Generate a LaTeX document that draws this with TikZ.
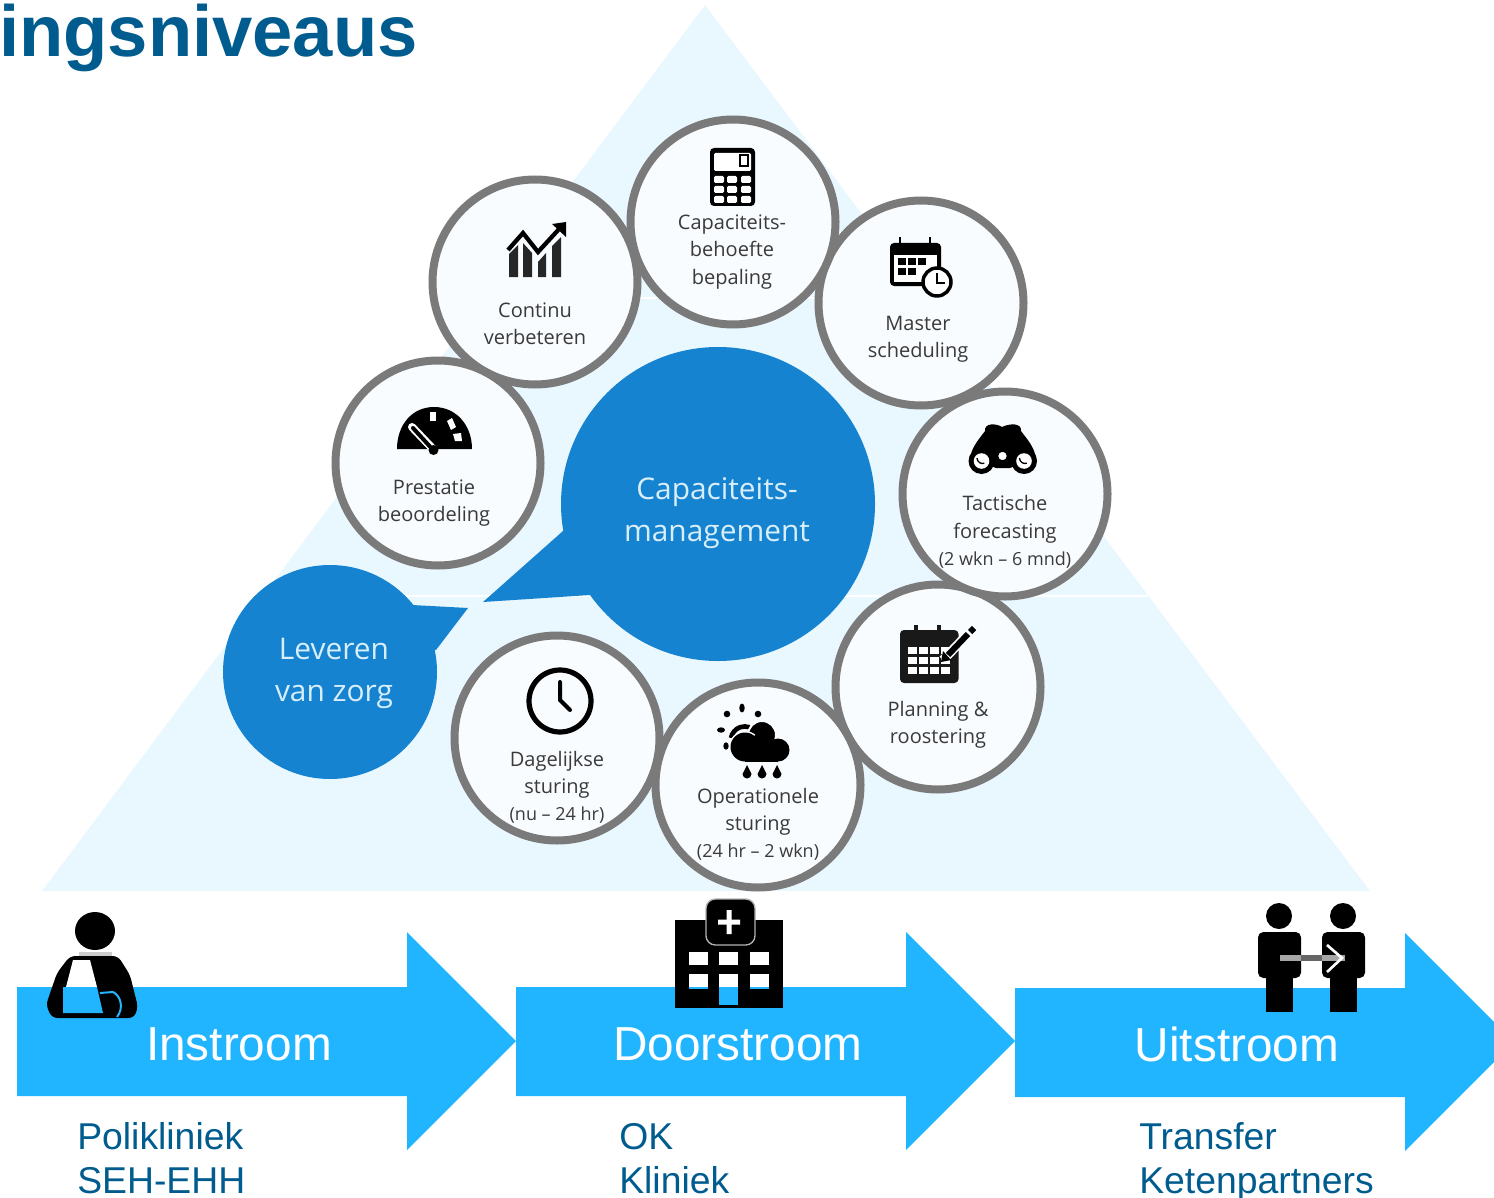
\documentclass[tikz,border=0pt]{standalone}
\usepackage{fontspec}
\setmainfont{Liberation Sans}
\newfontfamily\cfont{Open Sans}
\definecolor{tri}{HTML}{E9F7FF}
\definecolor{ringc}{HTML}{7A7A7A}
\definecolor{disc}{HTML}{F9FCFF}
\definecolor{bubble}{HTML}{1583D0}
\definecolor{arrowc}{HTML}{22B5FF}
\definecolor{navy}{HTML}{005C8F}
\definecolor{lbl}{HTML}{3A3A3A}
\definecolor{bubtxt}{HTML}{D8EEFB}
\tikzset{
 ring/.style={circle,draw=ringc,fill=disc,line width=6pt,minimum size=153.75pt,inner sep=0pt},
 lab/.style={align=center,text=lbl,inner sep=0pt,font=\cfont\fontsize{15}{20.4}\selectfont},
 blab/.style={align=center,text=bubtxt,inner sep=0pt,font=\cfont\fontsize{22.4}{31.5}\selectfont},
 arrowtxt/.style={text=white,inner sep=0pt,anchor=base,font=\fontsize{35.8}{40}\selectfont},
 subtxt/.style={text=navy,inner sep=0pt,anchor=base west,font=\fontsize{28}{33}\selectfont},
 bigarrow/.style={fill=arrowc,draw=none},
 sep/.style={draw=white,line width=1.3pt}
}
\begin{document}
\begin{tikzpicture}[x=0.75pt,y=-0.75pt]
\useasboundingbox (0,0) rectangle (1494,1198);
\clip (0,0) rectangle (1494,1198);
% pyramid
\fill[tri] (705,5) -- (1370,891) -- (42,891) -- cycle;
\draw[sep] (485,298) -- (925,298);
\draw[sep] (262,596) -- (1148,596);
% title
\node[text=navy,inner sep=0pt,anchor=base west,font=\bfseries\fontsize{54.3}{60}\selectfont] (title) at (-1,56.5) {ingsniveaus};
% speech bubbles
\node[circle,fill=bubble,minimum size=235.5pt,inner sep=0pt] (mainb) at (718,504) {};
\fill[bubble] (563,531) -- (483,602) -- (590,595) -- (640,560) -- cycle;
\node[circle,fill=bubble,minimum size=160.5pt,inner sep=0pt] (leftb) at (330,672) {};
\fill[bubble] (412,605) -- (468,608) -- (436,650) -- (380,640) -- cycle;
\node[blab] (mainl) at (717,513) {Capaciteits-\\management};
\node[blab] (leftl) at (334,673) {Leveren\\van zorg};
% rings
\node[ring] (c2) at (535,282) {};
\node[ring] (c3) at (921,303) {};
\node[ring] (c8) at (438,463) {};
\node[ring] (c5) at (938,687) {};
\node[ring] (c4) at (1005,494) {};
\node[ring] (c7) at (557,738) {};
\node[ring] (c6) at (758,785) {};
\node[ring] (c1) at (733,222) {};
% labels
\node[lab] (l1) at (732,252) {Capaciteits-\\behoefte\\bepaling};
\node[lab] (l2) at (535,324) {Continu\\verbeteren};
\node[lab] (l3) at (918,339) {Master\\scheduling};
\node[lab] (l4) at (1005,532) {Tactische\\forecasting\\{\fontsize{13.5}{20.4}\selectfont (2 wkn – 6 mnd)}};
\node[lab] (l5) at (938,725) {Planning \&\\roostering};
\node[lab] (l6) at (758,824.5) {Operationele\\sturing\\{\fontsize{13.5}{20.4}\selectfont (24 hr – 2 wkn)}};
\node[lab] (l7) at (557,787.5) {Dagelijkse\\sturing\\{\fontsize{13.5}{20.4}\selectfont (nu – 24 hr)}};
\node[lab] (l8) at (434,503) {Prestatie\\beoordeling};
% calculator
\fill[black,rounded corners=3pt] (710,148) rectangle (755,206);
\fill[white,rounded corners=1pt] (714,153) rectangle (751,171);
\draw[black,line width=1.3pt] (740,155) rectangle (748,166);
\foreach \yy in {176,186,196} \foreach \xx in {714,727,741}
  \fill[white,rounded corners=1pt] (\xx,\yy) rectangle ++(10,7);
% chart
\draw[black,line width=3.2pt,line join=miter] (508,250) -- (523,233) -- (538,252) -- (560,228);
\fill[black] (552,224) -- (566,222) -- (566,237) -- cycle;
\fill[black!85] (509,254) -- (518,245) -- (518,277) -- (509,277) -- cycle;
\fill[black!85] (523,243) -- (532,253) -- (532,277) -- (523,277) -- cycle;
\fill[black!85] (538,262) -- (546,253) -- (546,277) -- (538,277) -- cycle;
\fill[black!85] (552,246) -- (561,237) -- (561,277) -- (552,277) -- cycle;
% master calendar
\fill[black,rounded corners=3pt] (890,243) rectangle (941,286);
\fill[white] (894,255) rectangle (937,282);
\foreach \xx in {898,908,918} \fill[black] (\xx,258) rectangle ++(8,7);
\foreach \xx in {898,908} \fill[black] (\xx,268) rectangle ++(8,7);
\draw[black,line width=2pt] (900,237) -- (900,250) (930,237) -- (930,250);
\draw[black,fill=white,line width=2.6pt] (937,282) circle (14);
\draw[black,line width=2pt] (937,273) -- (937,283) -- (945,283);
% gauge
\fill[black] (397,449) .. controls (397,425) and (412,407) .. (434,407) .. controls (456,407) and (472,425) .. (472,449) -- cycle;
\draw[white,line width=6pt,line cap=round] (412,427) -- (433,449);
\draw[black,line width=3pt,line cap=round] (413,428) -- (434,451);
\fill[black] (433.5,450) circle (5);
\fill[white] (430,412) rectangle (436,421);
\fill[white] (447,421) -- (452,418) -- (456,427) -- (451,430) -- cycle;
\fill[white] (453,434) -- (461,433) -- (462,441) -- (455,441) -- cycle;
% binoculars
\fill[black] (970,458) .. controls (972,446) and (980,438) .. (985,431) .. controls (984,423) and (996,423) .. (1002,427) .. controls (1010,423) and (1022,423) .. (1021,431) .. controls (1026,438) and (1034,446) .. (1036,458) -- (1010,468) -- (996,468) -- cycle;
\fill[black] (981.5,461) circle (13) (1024,461) circle (13);
\draw[black,line width=1pt,fill=white] (1002.5,456) circle (5);
\fill[white] (981.5,461) circle (7.8) (1024,461) circle (7.8);
\draw[black,line width=1pt] (977,458) arc (180:70:5.5) (1019.5,458) arc (180:70:5.5);
% planning calendar
\fill[black!90,rounded corners=3pt] (900,630) rectangle (958.5,683);
\draw[black!90,line width=2.4pt] (916,625) -- (916,638) (939,625) -- (939,638);
\foreach \yy in {647,657,667} \foreach \xx in {908,919,930,941}
  \fill[white] (\xx,\yy) rectangle ++(8.5,7);
\draw[disc,line width=7pt] (943,660) -- (968,634);
\draw[black,line width=4.5pt] (948,655) -- (968,634);
\draw[black,line width=4.5pt] (970,632) -- (974,628);
\fill[black] (941,662) -- (943,651) -- (951,660) -- cycle;
% clock
\draw[black,line width=3.9pt] (560,701) circle (31);
\draw[black,line width=3pt,line cap=round] (560,682) -- (560,700) -- (570,710);
% weather
\draw[black,line width=3.5pt] (731,738) arc (190:290:14);
\fill[black] (742,708) ellipse (2.7 and 4.5) (727,714) circle (3.3) (758,714) circle (3.3) (721,730) ellipse (4 and 2.7) (726,746) ellipse (2.7 and 3.7);
\draw[disc,line width=1.5pt,fill=black] (762,735) circle (14);
\draw[disc,line width=1.5pt,fill=black] (745,747) circle (15);
\fill[black] (778,750) circle (11.5) (760,745) circle (11) (745,747) circle (14.5);
\fill[black] (745,752) rectangle (778,762);
\foreach \xx in {747,762,777} \fill[black] (\xx,765) -- (\xx+4.5,774) arc (0:180:4.5) -- cycle;
% arrows
\fill[bigarrow] (17,987) -- (407,987) -- (407,932) -- (516,1041) -- (407,1150) -- (407,1096) -- (17,1096) -- cycle;
\fill[bigarrow] (516,987) -- (906,987) -- (906,932) -- (1015,1041) -- (906,1150) -- (906,1096) -- (516,1096) -- cycle;
\fill[bigarrow] (1015,988) -- (1405,988) -- (1405,933) -- (1514,1042) -- (1405,1151) -- (1405,1097) -- (1015,1097) -- cycle;
\node[arrowtxt] (a1) at (239,1060) {Instroom};
\node[arrowtxt] (a2) at (738,1060) {Doorstroom};
\node[arrowtxt] (a3) at (1237,1061) {Uitstroom};
\node[subtxt] (s1) at (77,1149) {Polikliniek};
\node[subtxt] (s2) at (77,1193) {SEH-EHH};
\node[subtxt] (s3) at (619,1149) {OK};
\node[subtxt] (s4) at (619,1193) {Kliniek};
\node[subtxt] (s5) at (1139,1149) {Transfer};
\node[subtxt] (s6) at (1139,1193) {Ketenpartners};
% patient
\fill[black] (95,931) ellipse (20 and 19);
\fill[black!20] (79,952) rectangle (112,956);
\fill[black,rounded corners=4pt] (70,956) -- (118,956) -- (130,975) -- (138,1007) -- (134,1018) -- (52,1018) -- (46,1005) -- (57,973) -- cycle;
\fill[white] (73,960) -- (90,960) -- (97,987) -- (66,987) -- cycle;
\fill[arrowc] (63,987) -- (97,987) -- (103,1013) -- (63,1013) -- cycle;
\draw[arrowc,line width=1.5pt] (100,993) -- (113,992) .. controls (121,996) and (124,1008) .. (117,1017);
% hospital
\fill[black] (675,920) rectangle (783,1008);
\draw[white!70!black,line width=1pt,fill=black,rounded corners=7pt] (706,899) rectangle (755,945);
\fill[white] (726.5,910) rectangle (731.5,934) (718,919.5) rectangle (740,924.5);
\foreach \xx in {689,719,750} \fill[white] (\xx,952) rectangle ++(19,13);
\foreach \xx in {689,750} {\fill[white] (\xx,974) rectangle ++(19,13); \fill[arrowc] (\xx,987) rectangle ++(19,2);}
\fill[white] (719,974) rectangle (738,987);
\fill[arrowc] (719,987) rectangle (738,1005);
% transfer people
\foreach \xx/\yy in {1279/1258,1343/1322} {
  \fill[black] (\xx,916) circle (13);
  \fill[black,rounded corners=4pt] (\yy,932) rectangle (\yy+43,978);
  \fill[black] (\yy+8,970) rectangle (\yy+35,1012);
}
\fill[black!35] (1280,955) rectangle (1345,961);
\fill[black!60] (1301,955) rectangle (1322,961);
\draw[white,line width=2pt] (1327,945) -- (1342,958) -- (1327,972);
\end{tikzpicture}
\end{document}
